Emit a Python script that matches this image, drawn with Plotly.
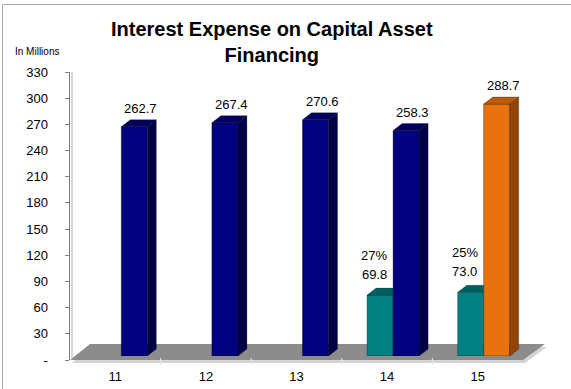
import plotly.graph_objects as go

# ---- data -------------------------------------------------------------
categories = ["11", "12", "13", "14", "15"]
share_values = [None, None, None, 69.8, 73.0]          # teal series
total_values = [262.7, 267.4, 270.6, 258.3, 288.7]      # navy / orange series
y_ticks = [0, 30, 60, 90, 120, 150, 180, 210, 240, 270, 300, 330]
PAD = "\u00a0" * 4                                       # gap between labels and ticks
y_tick_text = [("-" if v == 0 else str(v)) + PAD for v in y_ticks]

# ---- styling ----------------------------------------------------------
FONT = "Liberation Sans, Arial, sans-serif"
NAVY = ("#000080", "#00005C", "#000046")     # front, top, side
ORANGE = ("#E8720F", "#BC5C0B", "#914507")
TEAL = ("#008080", "#005E5E", "#004A4A")
total_styles = [NAVY, NAVY, NAVY, NAVY, ORANGE]

W, H = 571, 389
L, R, T, B = 70, 21, 68, 29              # margins (px)
PW, PH = W - L - R, H - T - B            # plot area size (px)
FRONT_W = 453                            # width of the front axis (px)
FRONT_H = 288                            # height of the value axis (px)
SHIFT_X, SHIFT_Y = 6, 4                  # bars sit a little back in depth
DEPTH_X, DEPTH_Y = 9, 7                  # bar depth (px)
YMAX = 330

px_per_cat = FRONT_W / len(categories)
px_per_val = FRONT_H / YMAX
dxu = DEPTH_X / px_per_cat
dyu = DEPTH_Y / px_per_val
bar_w = 26 / px_per_cat

xs = list(range(len(categories)))

fig = go.Figure()

# invisible carrier so the front axes get their ticks
fig.add_trace(go.Scatter(x=[xs[0], xs[-1]], y=[0, YMAX], mode="markers",
                         marker=dict(opacity=0), xaxis="x", yaxis="y",
                         hoverinfo="skip", showlegend=False))

# front faces of the bars
fig.add_trace(go.Bar(
    x=xs, y=share_values, width=bar_w, offset=-bar_w,
    marker=dict(color=TEAL[0], line=dict(color="rgba(0,40,40,0.7)", width=0.6)),
    xaxis="x2", yaxis="y2", hoverinfo="skip", showlegend=False,
))
fig.add_trace(go.Bar(
    x=xs, y=total_values, width=bar_w, offset=0,
    marker=dict(color=[s[0] for s in total_styles],
                line=dict(color="rgba(0,0,0,0.6)", width=0.6)),
    xaxis="x2", yaxis="y2", hoverinfo="skip", showlegend=False,
))

shapes = []
annotations = []


def poly(points):
    return "M " + " L ".join(f"{x},{y}" for x, y in points) + " Z"


def px_paper(px, py):
    return (px - L) / PW, (H - B - py) / PH


# floor (with soft shadow underneath)
floor_px = [(70, 360), (90, 344), (545, 344), (523, 360)]
shadow_px = [(72, 363), (92, 347), (547, 347), (525, 363)]
for pts, col in ((shadow_px, "#D4D4D4"), (floor_px, "#8C8C8C")):
    shapes.append(dict(type="path", xref="paper", yref="paper", layer="below",
                       path=poly([px_paper(*p) for p in pts]),
                       fillcolor=col, line=dict(width=0)))

# light edge beside the value-axis wall
x0p, y0p = px_paper(72, 72)
x1p, y1p = px_paper(72, 358)
shapes.append(dict(type="line", xref="paper", yref="paper", layer="below",
                   x0=x0p, y0=y0p, x1=x1p, y1=y1p,
                   line=dict(color="#D8D8D8", width=2)))

# category dividers under the floor edge
for k in range(1, len(categories)):
    gx, gy0 = px_paper(70 + k * px_per_cat, 358)
    _, gy1 = px_paper(0, 365)
    shapes.append(dict(type="line", xref="paper", yref="paper", layer="below",
                       x0=gx, x1=gx, y0=gy0, y1=gy1,
                       line=dict(color="#E6E6E6", width=1)))

# outer frame (top and left edges visible)
fx0, fy0 = px_paper(2.5, 4.5)
fx1, fy1 = px_paper(W + 20, H + 20)
shapes.append(dict(type="rect", xref="paper", yref="paper", layer="below",
                   x0=fx0, y0=fy1, x1=fx1, y1=fy0,
                   line=dict(color="#AAAAAA", width=1), fillcolor="rgba(0,0,0,0)"))

# 3D top and side faces of the bars
for i, (s, t) in enumerate(zip(share_values, total_values)):
    front, top, side = total_styles[i]
    x0, x1 = i, i + bar_w
    shapes.append(dict(type="path", xref="x2", yref="y2", layer="above",
                       path=poly([(x0, t), (x1, t), (x1 + dxu, t + dyu), (x0 + dxu, t + dyu)]),
                       fillcolor=top, line=dict(color="rgba(0,0,0,0.5)", width=0.5)))
    shapes.append(dict(type="path", xref="x2", yref="y2", layer="above",
                       path=poly([(x1, 0), (x1 + dxu, dyu), (x1 + dxu, t + dyu), (x1, t)]),
                       fillcolor=side, line=dict(color="rgba(0,0,0,0.5)", width=0.5)))
    annotations.append(dict(xref="x2", yref="y2", x=i + bar_w / 2 + dxu / 2, y=t + dyu,
                            text=f"{t:.1f}", showarrow=False, yanchor="bottom",
                            yshift=2, xshift=2, font=dict(size=13, color="#000000")))
    if s is not None:
        sx0, sx1 = i - bar_w, i
        shapes.append(dict(type="path", xref="x2", yref="y2", layer="above",
                           path=poly([(sx0, s), (sx1, s), (sx1, s + dyu), (sx0 + dxu, s + dyu)]),
                           fillcolor=TEAL[1], line=dict(color="rgba(0,0,0,0.4)", width=0.5)))
        annotations.append(dict(xref="x2", yref="y2", x=i - bar_w / 2, y=s + dyu,
                                text=f"{s:.1f}", showarrow=False, yanchor="bottom",
                                yshift=4, xshift=-6, font=dict(size=13, color="#000000")))
        annotations.append(dict(xref="x2", yref="y2", x=i - bar_w / 2, y=s + dyu,
                                text=f"{round(100 * s / t)}%", showarrow=False,
                                yanchor="bottom", yshift=23, xshift=-6,
                                font=dict(size=13, color="#000000")))

# chart title
tx, ty = px_paper(272, 16)
annotations.append(dict(xref="paper", yref="paper", x=tx, y=ty,
                        text="<b>Interest Expense on Capital Asset<br>Financing</b>",
                        showarrow=False, xanchor="center", yanchor="top",
                        font=dict(size=20, family=FONT, color="#000000")))

# unit caption
cx, cy = px_paper(37, 51)
annotations.append(dict(xref="paper", yref="paper", x=cx, y=cy, text="In Millions",
                        showarrow=False, font=dict(size=10, color="#000000"),
                        xanchor="center", yanchor="middle"))

fig.update_layout(
    width=W, height=H,
    margin=dict(l=L, r=R, t=T, b=B, autoexpand=False),
    paper_bgcolor="#FFFFFF", plot_bgcolor="rgba(0,0,0,0)",
    font=dict(family=FONT, size=13, color="#000000"),
    barmode="overlay",
    xaxis=dict(range=[-0.5, len(categories) - 0.5], domain=[0, FRONT_W / PW],
               tickmode="array", tickvals=xs, ticktext=categories,
               showgrid=False, zeroline=False, showline=False,
               ticks="outside", ticklen=4, tickcolor="rgba(0,0,0,0)",
               tickfont=dict(size=13), anchor="y", fixedrange=True,
               automargin=False),
    yaxis=dict(range=[0, YMAX], domain=[0, FRONT_H / PH],
               tickmode="array", tickvals=y_ticks, ticktext=y_tick_text,
               showgrid=False, zeroline=False, showline=True,
               linecolor="#808080", linewidth=1,
               ticks="outside", ticklen=4, tickcolor="#808080",
               tickfont=dict(size=13), anchor="x",
               fixedrange=True, automargin=False),
    xaxis2=dict(range=[-0.5, len(categories) - 0.5],
                domain=[SHIFT_X / PW, (FRONT_W + SHIFT_X) / PW],
                visible=False, anchor="y2", fixedrange=True),
    yaxis2=dict(range=[0, YMAX], domain=[SHIFT_Y / PH, (FRONT_H + SHIFT_Y) / PH],
                visible=False, anchor="x2", fixedrange=True),
    shapes=shapes,
    annotations=annotations,
)

fig.write_html("out.html")
